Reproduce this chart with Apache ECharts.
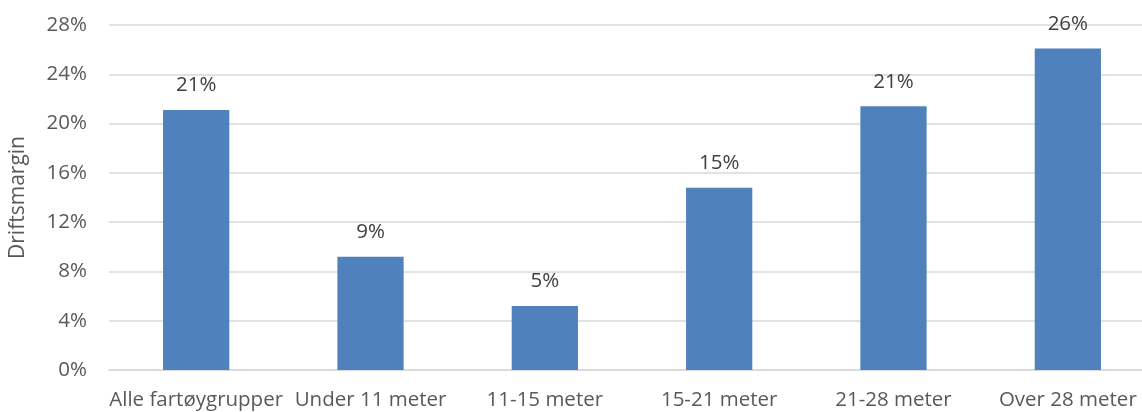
<!DOCTYPE html>
<html>
<head>
<meta charset="utf-8">
<script src="https://cdn.jsdelivr.net/npm/echarts@6/dist/echarts.min.js"></script>
<style>html,body{margin:0;padding:0;background:#fff;overflow:hidden;width:1142px;height:412px}#c{width:1155px;height:412px}</style>
</head>
<body>
<div id="c"></div>
<script>
const categories = ['Alle fartøygrupper', 'Under 11 meter', '11-15 meter', '15-21 meter', '21-28 meter', 'Over 28 meter'];
const values = [21.1, 9.2, 5.2, 14.8, 21.4, 26.1];
const yTicks = [0, 4, 8, 12, 16, 20, 24, 28];
const yName = 'Driftsmargin';

const chart = echarts.init(document.getElementById('c'));
const font = 'Open Sans';
const fs = 20.5;
chart.setOption({
  animation: false,
  grid: { left: 108, right: 0, top: 25, bottom: 42 },
  xAxis: {
    type: 'category',
    data: categories,
    axisTick: { show: false },
    axisLine: { show: true, lineStyle: { color: '#D9D9D9', width: 1.5 } },
    axisLabel: { color: '#595959', fontSize: fs, fontFamily: font, margin: 20, interval: 0 }
  },
  yAxis: {
    type: 'value',
    min: yTicks[0],
    max: yTicks[yTicks.length - 1],
    interval: 4,
    name: yName,
    nameLocation: 'middle',
    nameGap: 80,
    nameTextStyle: { color: '#595959', fontSize: 21, fontFamily: font },
    axisLine: { show: false },
    axisTick: { show: false },
    splitLine: { lineStyle: { color: '#D9D9D9', width: 1.5 } },
    axisLabel: { color: '#595959', fontSize: fs, fontFamily: font, margin: 22, formatter: '{value}%' }
  },
  series: [{
    type: 'bar',
    data: values,
    barWidth: '38%',
    itemStyle: { color: '#4F81BD' },
    label: {
      show: true,
      position: 'top',
      distance: 14,
      color: '#404040',
      fontSize: fs,
      fontFamily: font,
      formatter: p => Math.round(p.value) + '%'
    }
  }]
});
</script>
</body>
</html>
